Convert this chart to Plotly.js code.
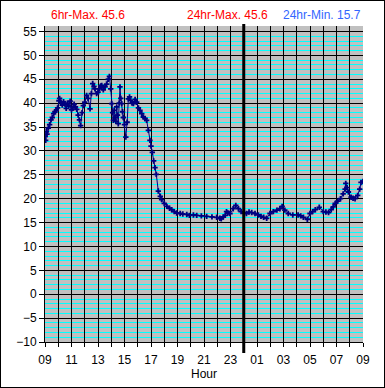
<!DOCTYPE html>
<html><head><meta charset="utf-8">
<script src="https://cdn.plot.ly/plotly-3.0.1.min.js"></script>
<style>html,body{margin:0;padding:0;background:#fff}
#chart{width:383px;height:386px;border:1px solid #000;}</style>
</head><body><div id="chart"></div>
<script>
// hours after 09:00
const hours = [0.0,0.05,0.1,0.15,0.25,0.35,0.45,0.55,0.65,0.75,0.85,0.95,1.05,1.1,1.2,1.3,1.4,1.5,1.6,1.7,1.8,1.9,2.0,2.1,2.2,2.3,2.4,2.5,2.6,2.69,2.8,2.89,3.0,3.14,3.25,3.4,3.5,3.6,3.7,3.77,3.9,4.0,4.1,4.2,4.28,4.4,4.53,4.65,4.78,4.86,4.96,5.03,5.1,5.16,5.22,5.28,5.35,5.41,5.47,5.53,5.6,5.66,5.72,5.79,5.85,5.91,6.0,6.1,6.2,6.29,6.38,6.47,6.57,6.67,6.8,6.92,7.05,7.17,7.3,7.42,7.55,7.67,7.8,7.92,8.0,8.1,8.2,8.3,8.4,8.55,8.7,8.8,9.0,9.2,9.4,9.56,9.75,9.94,10.2,10.4,10.7,10.9,11.2,11.45,11.8,12.2,12.6,12.96,13.2,13.3,13.46,13.6,13.7,13.8,13.96,14.2,14.4,14.6,14.8,15.0,15.2,15.4,15.6,15.85,16.1,16.3,16.5,16.73,16.98,17.23,17.5,17.73,17.9,18.1,18.36,18.7,19.1,19.3,19.5,19.8,20.0,20.2,20.4,20.7,21.0,21.2,21.4,21.6,21.75,21.9,22.1,22.3,22.5,22.65,22.7,22.8,22.9,23.1,23.25,23.4,23.6,23.75,23.85,24.0];
const temps = [33.0,32.2,34.0,33.5,34.8,35.5,36.5,37.0,37.8,38.2,38.5,39.0,40.5,41.0,40.2,39.6,40.3,39.8,38.9,40.0,39.4,40.4,38.6,39.0,39.8,39.2,38.7,37.5,36.5,35.3,38.0,39.5,40.2,41.6,41.0,38.8,42.0,44.1,43.5,43.0,42.0,42.3,43.0,43.6,43.7,42.8,43.4,44.0,45.0,45.6,43.0,39.9,38.0,36.4,38.5,37.0,36.2,39.2,37.5,35.7,40.0,43.4,41.0,39.9,38.2,37.0,35.5,32.9,36.0,40.9,41.3,40.6,40.0,39.9,40.8,40.2,39.0,38.5,37.8,37.1,36.8,36.4,34.3,32.2,31.0,29.7,27.9,26.5,25.1,21.6,20.5,19.8,19.0,18.4,18.0,17.7,17.3,17.0,16.9,16.8,16.7,16.5,16.6,16.5,16.4,16.3,16.2,16.1,15.9,15.8,16.2,16.5,17.3,17.0,16.9,17.9,18.6,17.9,17.3,17.0,16.9,17.2,17.1,16.9,16.6,16.3,16.1,15.9,16.9,17.3,17.6,17.9,18.4,17.6,16.9,16.6,16.6,16.4,16.1,15.7,16.9,17.3,17.7,18.2,17.3,17.2,17.1,17.7,18.3,19.0,19.5,20.0,21.0,22.0,23.2,22.3,21.4,20.3,20.1,20.0,20.7,22.0,23.4,23.6];
const gridHours = [0,1,2,3,4,5,6,7,8,9,10,11,12,13,14,15,16,17,18,19,20,21,22,23,24];
const tickLabels = ["09","","11","","13","","15","","17","","19","","21","","23","","01","","03","","05","","07","","09"];
const midnightHour = 15;
const statLabels = ["6hr-Max. 45.6","24hr-Max. 45.6","24hr-Min. 15.7"];
const statColors = ["#FF0000","#FF0000","#3366FF"];
const statPos = [0.135,0.575,0.871];

const font = {family:'"Liberation Sans", Arial, sans-serif', size:12, color:'#000'};

const trace = {
  x: hours, y: temps, type:'scatter', mode:'lines+markers',
  line:{color:'#000080', width:1},
  marker:{symbol:'cross', size:4.5, color:'#000080'},
  hoverinfo:'skip'
};

const layout = {
  width:383, height:386,
  margin:{l:44, r:21, t:25, b:45},
  paper_bgcolor:'#fff', plot_bgcolor:'#C0C0C0',
  font: font, showlegend:false,
  xaxis:{range:[0,24], tickmode:'array', tickvals:gridHours, ticktext:tickLabels,
    ticks:'outside', ticklen:4, tickcolor:'#000', tickfont:font, ticklabelstandoff:3,
    showgrid:true, gridcolor:'#000', gridwidth:1, zeroline:false,
    showline:true, linecolor:'#000', linewidth:1, fixedrange:true,
    title:{text:'Hour', font:font, standoff:3}},
  yaxis:{range:[-10,56.15], tickmode:'linear', tick0:0, dtick:5, ticks:'outside', ticklen:5,
    tickcolor:'#000', showgrid:true, gridcolor:'#000', gridwidth:1, zeroline:false,
    showline:true, linecolor:'#000', linewidth:1, tickfont:font,
    minor:{dtick:1, showgrid:true, gridcolor:'#00FFFF', gridwidth:1, ticks:''}},
  shapes:[{type:'line', xref:'x', yref:'paper', x0:midnightHour, x1:midnightHour,
    y0:-0.035, y1:1.006, line:{color:'#000', width:3}, layer:'above'}],
  annotations: statLabels.map((t,i)=>({text:t, xref:'paper', yref:'paper', x:statPos[i], y:1.035,
    xanchor:'center', yanchor:'middle', showarrow:false, font:{family:font.family, size:12, color:statColors[i]}}))
};

Plotly.newPlot('chart', [trace], layout, {staticPlot:true, displayModeBar:false});
</script></body></html>
